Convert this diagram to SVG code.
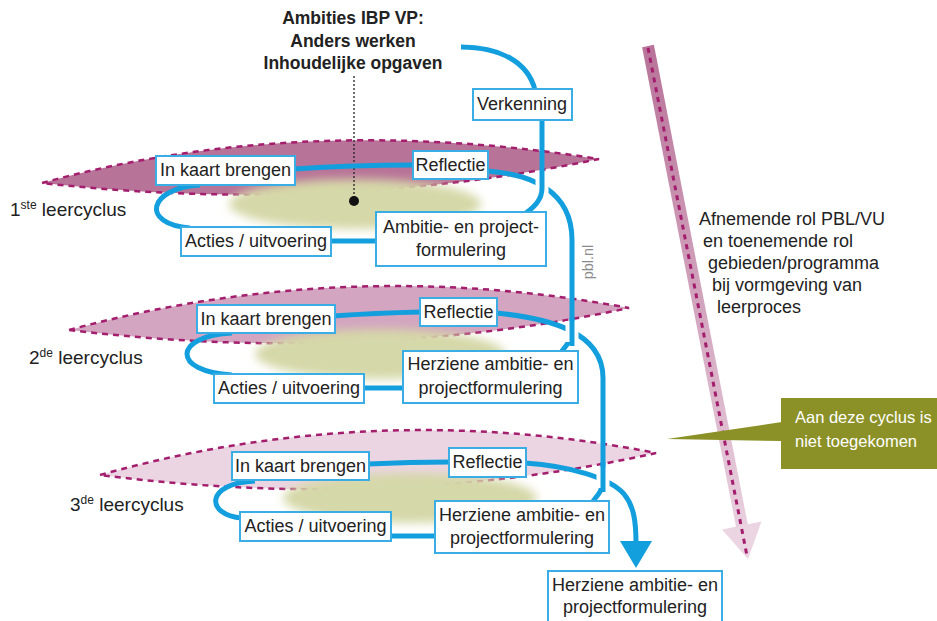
<svg xmlns="http://www.w3.org/2000/svg" width="937" height="621" viewBox="0 0 937 621">
  <defs>
    <style>
      text { font-family: "Liberation Sans", Arial, sans-serif; fill: #222; }
      .box rect { fill: #fff; stroke: #3aaee4; stroke-width: 2; }
      .box text { font-size: 18px; text-anchor: middle; }
      .flow { fill: none; stroke: #139fdd; stroke-width: 5; }
      .gap { fill: none; stroke: #fff; stroke-width: 13; }
      .plane { stroke: #a41e6e; stroke-width: 2.5; stroke-dasharray: 6 5; }
      .glow { fill: #d5d8a8; filter: url(#soft); }
      .cycle { font-size: 19px; }
      .sup { font-size: 12px; }
      .title { font-size: 17.5px; font-weight: bold; text-anchor: middle; }
      .note { font-size: 18px; }
      .callout { font-size: 16.5px; fill: #fff; }
    </style>
    <filter id="soft" x="-30%" y="-100%" width="160%" height="300%">
      <feGaussianBlur stdDeviation="5"/>
    </filter>
    <linearGradient id="fade" gradientUnits="userSpaceOnUse" x1="648" y1="46" x2="748" y2="558">
      <stop offset="0" stop-color="#b87399"/>
      <stop offset="1" stop-color="#ecd6e3"/>
    </linearGradient>
  </defs>

  <!-- cycle planes with their soft core -->
  <g id="planes">
    <path class="plane" fill="#b87398" d="M42,183 Q300,112 599,159 Q330,215 42,183 Z"/>
    <ellipse class="glow" cx="355" cy="204" rx="126" ry="25"/>
    <path class="plane" fill="#d3a5c0" d="M69,330 Q345,255 629,308 Q360,365 69,330 Z"/>
    <ellipse class="glow" cx="380" cy="354" rx="125" ry="25"/>
    <path class="plane" fill="#ebd5e2" d="M100,475 Q375,398 656,453 Q390,512 100,475 Z"/>
    <ellipse class="glow" cx="410" cy="498" rx="127" ry="25"/>
  </g>

  <!-- ambitions pointer -->
  <g id="ambities">
    <text class="title" x="353" y="24">Ambities IBP VP:</text>
    <text class="title" x="353" y="47">Anders werken</text>
    <text class="title" x="353" y="69">Inhoudelijke opgaven</text>
    <line x1="354" y1="76" x2="354" y2="200" stroke="#222" stroke-width="1.3" stroke-dasharray="2 2"/>
    <circle cx="354" cy="201" r="5" fill="#111"/>
  </g>

  <!-- process flow -->
  <g id="connectors">
    <path class="flow" d="M461,47 C500,47 528,62 535,90"/>
    <path class="flow" d="M294,169 Q352,165 414,165"/>
    <path class="flow" d="M200,185 C148,188 140,224 190,228"/>
    <path class="flow" d="M330,241 L377,241"/>
    <path class="flow" d="M487,171 C530,174 572,190 572,240 L572,328 C572,340 566,346 561,352"/>
    <path class="gap" d="M542,175 L542,195"/>
    <path class="flow" d="M542,120 L542,188 C542,200 534,207 526,213"/>

    <path class="flow" d="M333,316 Q375,313 421,312"/>
    <path class="flow" d="M232,333 C172,336 172,372 232,375"/>
    <path class="flow" d="M363,388 L404,388"/>
    <path class="flow" d="M496,313 C545,318 603,330 603,378 L603,480 C603,490 598,495 593,501"/>
    <path class="gap" d="M572,321 L572,342"/>
    <path class="flow" d="M572,318 L572,346"/>

    <path class="flow" d="M368,464 Q410,462 450,462"/>
    <path class="flow" d="M255,481 C205,483 205,515 242,518"/>
    <path class="flow" d="M390,536 L436,536"/>
    <path class="flow" d="M525,463 C570,466 610,478 624,494 C634,506 636,522 636,543"/>
    <path class="gap" d="M603,467 L603,488"/>
    <path class="flow" d="M603,462 L603,492"/>
    <polygon points="620,541 652,541 636,568" fill="#139fdd"/>
  </g>

  <!-- cycle 1 -->
  <g id="verkenning" class="box"><rect x="473" y="89" width="99" height="31"/><text x="522" y="110">Verkenning</text></g>
  <g id="kaart1" class="box"><rect x="156" y="156" width="139" height="29"/><text x="225.5" y="176">In kaart brengen</text></g>
  <g id="reflectie1" class="box"><rect x="413" y="151" width="75" height="28"/><text x="450.5" y="171">Reflectie</text></g>
  <g id="acties1" class="box"><rect x="181" y="227" width="150" height="29"/><text x="256" y="247">Acties / uitvoering</text></g>
  <g id="ambitie1" class="box"><rect x="376" y="212" width="170" height="54"/><text x="461" y="233">Ambitie- en project-</text><text x="461" y="256">formulering</text></g>

  <!-- cycle 2 -->
  <g id="kaart2" class="box"><rect x="197" y="305" width="138" height="28"/><text x="266" y="325">In kaart brengen</text></g>
  <g id="reflectie2" class="box"><rect x="420" y="298" width="77" height="28"/><text x="458.5" y="318">Reflectie</text></g>
  <g id="acties2" class="box"><rect x="214" y="374" width="150" height="29"/><text x="289" y="394">Acties / uitvoering</text></g>
  <g id="herziene2" class="box"><rect x="403" y="351" width="175" height="52"/><text x="490.5" y="370">Herziene ambitie- en</text><text x="490.5" y="394">projectformulering</text></g>

  <!-- cycle 3 -->
  <g id="kaart3" class="box"><rect x="232" y="452" width="137" height="28"/><text x="300.5" y="472">In kaart brengen</text></g>
  <g id="reflectie3" class="box"><rect x="449" y="448" width="77" height="29"/><text x="487.5" y="468">Reflectie</text></g>
  <g id="acties3" class="box"><rect x="240" y="512" width="151" height="29"/><text x="315.5" y="532">Acties / uitvoering</text></g>
  <g id="herziene3" class="box"><rect x="435" y="501" width="174" height="52"/><text x="522" y="521">Herziene ambitie- en</text><text x="522" y="544">projectformulering</text></g>

  <!-- next cycle -->
  <g id="herziene4" class="box"><rect x="548" y="571" width="174" height="60"/><text x="635" y="591">Herziene ambitie- en</text><text x="635" y="613">projectformulering</text></g>

  <!-- cycle labels -->
  <g id="labels">
    <text class="cycle" x="10" y="216">1<tspan class="sup" dy="-7">ste</tspan><tspan dy="7"> leercyclus</tspan></text>
    <text class="cycle" x="29" y="364">2<tspan class="sup" dy="-7">de</tspan><tspan dy="7"> leercyclus</tspan></text>
    <text class="cycle" x="70" y="511">3<tspan class="sup" dy="-7">de</tspan><tspan dy="7"> leercyclus</tspan></text>
    <text x="593" y="262" font-size="14.5" style="fill:#8a8a8a" text-anchor="middle" transform="rotate(-90 593 262)">pbl.nl</text>
  </g>

  <!-- shifting roles arrow -->
  <g id="rol">
    <line x1="648" y1="46" x2="742" y2="526" stroke="url(#fade)" stroke-width="12"/>
    <polygon points="722,529.5 761.5,521.5 748,559" fill="#ebd5e2"/>
    <line x1="648" y1="48" x2="747" y2="556" stroke="#a41e6e" stroke-width="3" stroke-dasharray="5 5"/>
    <text class="note" x="699" y="225">Afnemende rol PBL/VU</text>
    <text class="note" x="703" y="247">en toenemende rol</text>
    <text class="note" x="708" y="269">gebieden/programma</text>
    <text class="note" x="712" y="291">bij vormgeving van</text>
    <text class="note" x="717" y="313">leerproces</text>
  </g>

  <!-- callout -->
  <g id="callout">
    <polygon points="667,439 782,422 782,441" fill="#8b9126"/>
    <rect x="781" y="398" width="156" height="71" fill="#8b9126"/>
    <text class="callout" x="795" y="423">Aan deze cyclus is</text>
    <text class="callout" x="795" y="447">niet toegekomen</text>
  </g>
</svg>
